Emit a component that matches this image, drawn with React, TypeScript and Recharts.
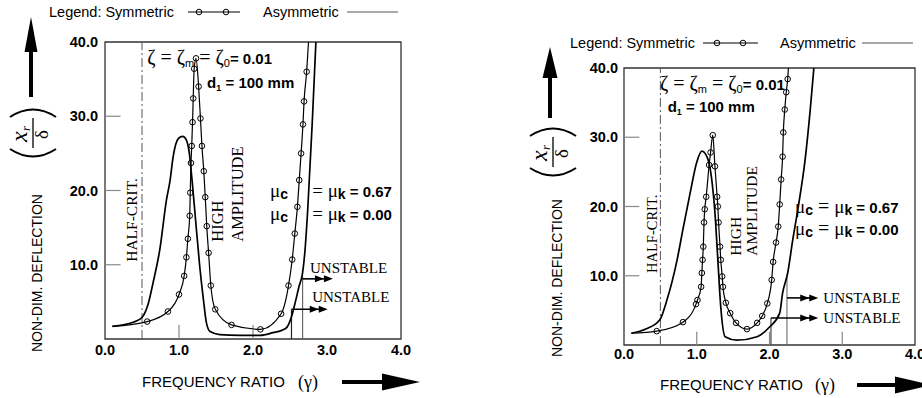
import React from 'react';
import { LineChart, Line, XAxis, YAxis, ReferenceLine, ReferenceArea, ReferenceDot } from 'recharts';

// ---------- axis ticks ----------
const X_TICKS = [0, 1, 2, 3, 4];
const Y_TICKS = [10, 20, 30, 40];
const LEFT_X_MARKS = [1, 2];
const RIGHT_X_MARKS = [1, 2, 3];

// ---------- left panel ----------
const LEFT_SYM_X = [0.10, 0.57, 0.85, 1.00, 1.07, 1.10, 1.12, 1.145, 1.152, 1.162, 1.172, 1.183, 1.192, 1.205, 1.23,
  1.265, 1.29, 1.31, 1.335, 1.355, 1.375, 1.40, 1.43, 1.49, 1.71, 2.10, 2.38, 2.48, 2.53, 2.565, 2.60, 2.625, 2.65, 2.675, 2.69, 2.725, 2.75];
const LEFT_SYM_Y = [1.7, 2.35, 3.7, 6.0, 8.5, 11.0, 13.5, 16.6, 19.7, 23.7, 26.0, 29.2, 32.4, 36.4, 37.8,
  34.0, 29.7, 26.0, 22.6, 19.1, 15.2, 11.6, 7.2, 4.0, 1.9, 1.3, 3.4, 7.2, 10.7, 14.2, 17.8, 21.4, 25.0, 28.9, 32.0, 36.0, 40.0];
const LEFT_ASYM_X = [0.10, 0.38, 0.50, 0.58, 0.65, 0.74, 0.83, 0.88, 0.92, 0.99, 1.05, 1.10, 1.14, 1.18, 1.22, 1.28, 1.33, 1.37, 1.42,
  1.55, 1.82, 2.10, 2.27, 2.40, 2.46, 2.52, 2.57, 2.62, 2.67, 2.70, 2.74, 2.80, 2.85];
const LEFT_ASYM_Y = [1.7, 2.25, 2.9, 4.6, 7.6, 12.0, 18.7, 21.4, 24.5, 27.0, 27.3, 26.8, 25.0, 21.0, 16.5, 9.8, 5.3, 2.2, 1.0,
  0.6, 0.5, 0.5, 0.85, 1.2, 1.6, 3.0, 4.9, 7.0, 8.9, 11.6, 17.5, 29.0, 40.0];

// ---------- right panel ----------
const RIGHT_SYM_X = [0.10, 0.45, 0.81, 0.99, 1.01, 1.06, 1.07, 1.08, 1.09, 1.10, 1.11, 1.13, 1.17, 1.19, 1.22,
  1.25, 1.28, 1.29, 1.30, 1.32, 1.33, 1.35, 1.36, 1.40, 1.46, 1.54, 1.69, 1.83, 1.90, 1.97, 2.03, 2.05, 2.09, 2.12, 2.14, 2.16, 2.18, 2.19, 2.21, 2.23, 2.25, 2.26];
const RIGHT_SYM_Y = [1.7, 2.0, 3.3, 5.9, 6.5, 8.4, 10.4, 12.3, 14.2, 17.7, 19.6, 21.4, 26.0, 27.8, 30.3,
  25.8, 21.4, 20.0, 17.7, 14.2, 12.3, 9.9, 8.4, 6.1, 4.6, 3.2, 2.3, 3.2, 4.2, 6.0, 9.4, 12.0, 14.8, 17.1, 20.3, 23.9, 27.2, 30.7, 34.0, 36.5, 38.4, 40.0];
const RIGHT_ASYM_X = [0.10, 0.30, 0.49, 0.59, 0.73, 0.81, 0.91, 1.00, 1.07, 1.14, 1.20, 1.25, 1.29, 1.33, 1.39, 1.55, 1.83, 2.00,
  2.14, 2.18, 2.25, 2.32, 2.39, 2.49, 2.56, 2.61];
const RIGHT_ASYM_Y = [1.7, 2.3, 3.6, 6.5, 12.3, 16.7, 22.0, 26.4, 28.0, 27.2, 24.4, 19.1, 12.3, 5.5, 1.2, 0.7, 1.2, 2.6,
  4.6, 7.5, 10.4, 15.2, 19.6, 26.8, 34.0, 40.0];

const SANS = '"Liberation Sans", Arial, sans-serif';
const SERIF = '"Liberation Serif", "Times New Roman", serif';

type P = { x: number; y: number };
const zip = (xs: number[], ys: number[]): P[] => xs.map((x, i) => ({ x, y: ys[i] }));
const fmt = (v: number) => v.toFixed(1);

function circleDot(n: number) {
  return (p: any) => {
    const key = `d-${p.index}`;
    if (p.index === 0 || p.index === n - 1 || p.cx == null || p.cy == null) return <g key={key} />;
    return <circle key={key} cx={p.cx} cy={p.cy} r={2.8} fill="none" stroke="#000" strokeWidth={1} />;
  };
}

function at(key: string, x: number, y: number, render: (cx: number, cy: number) => React.ReactNode) {
  return (
    <ReferenceDot key={key} x={x} y={y} r={0} ifOverflow="visible"
      shape={(p: any) => <g>{render(p.cx, p.cy)}</g>} />
  );
}

function seg(key: string, x1: number, y1: number, x2: number, y2: number, stroke: string, w: number) {
  return (
    <ReferenceLine key={key} segment={[{ x: x1, y: y1 }, { x: x2, y: y2 }]} stroke={stroke} strokeWidth={w} ifOverflow="visible" />
  );
}

function arrowHeads(cx: number, cy: number) {
  return (
    <g fill="#000">
      <polygon points={`${cx - 18},${cy - 3.5} ${cx - 9},${cy} ${cx - 18},${cy + 3.5}`} />
      <polygon points={`${cx - 9},${cy - 3.5} ${cx},${cy} ${cx - 9},${cy + 3.5}`} />
    </g>
  );
}

function zetaText(cx: number, cy: number) {
  return (
    <text x={cx} y={cy} fill="#000">
      <tspan fontFamily={SERIF} fontSize={20}>ζ = ζ</tspan>
      <tspan fontFamily={SANS} fontSize={11} dy={3}>m</tspan>
      <tspan fontFamily={SERIF} fontSize={20} dy={-3}> = ζ</tspan>
      <tspan fontFamily={SANS} fontSize={11} dy={3}>0</tspan>
      <tspan fontFamily={SANS} fontSize={15} fontWeight="bold" dy={-3}>= 0.01</tspan>
    </text>
  );
}

function dText(cx: number, cy: number) {
  return (
    <text x={cx} y={cy} fill="#000" fontFamily={SANS} fontWeight="bold" fontSize={15}>
      <tspan>d</tspan>
      <tspan fontSize={9} dy={3}>1</tspan>
      <tspan dy={-3}> = 100 mm</tspan>
    </text>
  );
}

function muC(cx: number, cy: number) {
  return (
    <text x={cx} y={cy} fill="#000">
      <tspan fontFamily={SERIF} fontSize={19}>μ</tspan>
      <tspan fontFamily={SANS} fontSize={14} fontWeight="bold" dy={2}>c</tspan>
    </text>
  );
}

function muRest(cx: number, cy: number, val: string) {
  return (
    <text x={cx} y={cy} fill="#000">
      <tspan fontFamily={SERIF} fontSize={19}>= μ</tspan>
      <tspan fontFamily={SANS} fontSize={14} fontWeight="bold" dy={2}>k</tspan>
      <tspan fontFamily={SANS} fontSize={15} fontWeight="bold" dy={-2}> = {val}</tspan>
    </text>
  );
}

function muFull(cx: number, cy: number, val: string) {
  return (
    <text x={cx} y={cy} fill="#000">
      <tspan fontFamily={SERIF} fontSize={19}>μ</tspan>
      <tspan fontFamily={SANS} fontSize={14} fontWeight="bold" dy={2}>c</tspan>
      <tspan fontFamily={SERIF} fontSize={20} dy={-2} dx={5}>=</tspan>
      <tspan fontFamily={SERIF} fontSize={19} dx={5}>μ</tspan>
      <tspan fontFamily={SANS} fontSize={14} fontWeight="bold" dy={2}>k</tspan>
      <tspan fontFamily={SANS} fontSize={15} fontWeight="bold" dy={-2}> = {val}</tspan>
    </text>
  );
}

function vText(cx: number, cy: number, s: string, size: number) {
  return (
    <text x={cx} y={cy} transform={`rotate(-90 ${cx} ${cy})`} fontFamily={SERIF} fontSize={size} fill="#000">{s}</text>
  );
}

function plainText(cx: number, cy: number, s: string, size: number) {
  return <text x={cx} y={cy} fontFamily={SERIF} fontSize={size} fill="#000">{s}</text>;
}

interface PanelProps {
  left: number; width: number; top: number;
  margin: { top: number; right: number; bottom: number; left: number };
  xTickMargin: number; yTickMargin: number;
  sym: P[]; asym: P[]; xMarks: number[];
  extras: React.ReactNode[];
}

const TICK_STYLE = { fontSize: 14.5, fill: '#000', fontFamily: SANS, fontWeight: 'bold' };

function Panel(props: PanelProps) {
  const { sym, asym } = props;
  return (
    <div style={{ position: 'absolute', left: props.left, top: props.top }}>
      <LineChart width={props.width} height={398} margin={props.margin}>
        <XAxis dataKey="x" type="number" domain={[0, 4]} ticks={X_TICKS} interval={0} tickFormatter={fmt}
          tickLine={false} axisLine={false} tickSize={0} tickMargin={props.xTickMargin} allowDataOverflow height={30}
          tick={TICK_STYLE} />
        <YAxis type="number" domain={[0, 40]} ticks={Y_TICKS} interval={0} tickFormatter={fmt}
          tickLine={false} axisLine={false} tickSize={0} tickMargin={props.yTickMargin} allowDataOverflow width={50}
          tick={TICK_STYLE} />
        <ReferenceArea x1={0} x2={4} y1={0} y2={40} fill="none" stroke="#333" strokeWidth={1.3} ifOverflow="visible" />
        {Y_TICKS.filter((v) => v < 40).map((v) => seg(`yt${v}`, 0, v, 0.21, v, '#888', 1.2))}
        {props.xMarks.map((v) => seg(`xt${v}`, v, 0, v, 1.9, '#888', 1.2))}
        <ReferenceLine x={0.5} stroke="#555" strokeDasharray="9 3 2 3" strokeWidth={1} />
        {props.extras}
        <Line data={asym} dataKey="y" type="monotone" stroke="#000" strokeWidth={1.7} dot={false} isAnimationActive={false} />
        <Line data={sym} dataKey="y" type="monotone" stroke="#000" strokeWidth={1.2} dot={circleDot(sym.length)} isAnimationActive={false} />
      </LineChart>
    </div>
  );
}

function Fraction({ x, y }: { x: number; y: number }) {
  return (
    <g transform={`translate(${x},${y}) rotate(-90)`} fill="#000">
      <path d="M -16 -23 Q -31 0 -16 23" fill="none" stroke="#000" strokeWidth={2} />
      <path d="M 16 -23 Q 31 0 16 23" fill="none" stroke="#000" strokeWidth={2} />
      <line x1={-15} x2={15} y1={0} y2={0} stroke="#000" strokeWidth={1.3} />
      <text x={-9} y={-6} fontFamily={SERIF} fontStyle="italic" fontSize={24}>x</text>
      <text x={2} y={-3} fontFamily={SERIF} fontStyle="italic" fontSize={13}>r</text>
      <text x={-6} y={15} fontFamily={SERIF} fontSize={19}>δ</text>
    </g>
  );
}

function Legend({ x, y, symL, symR, c1, c2, ax, aL, aR }: any) {
  return (
    <g fontFamily={SANS} fontSize={14.5} fill="#000">
      <text x={x} y={y + 5}>Legend: Symmetric</text>
      <line x1={symL} x2={symR} y1={y} y2={y} stroke="#000" strokeWidth={1.2} />
      <circle cx={c1} cy={y} r={2.8} fill="none" stroke="#000" strokeWidth={1} />
      <circle cx={c2} cy={y} r={2.8} fill="none" stroke="#000" strokeWidth={1} />
      <text x={ax} y={y + 5}>Asymmetric</text>
      <line x1={aL} x2={aR} y1={y} y2={y} stroke="#555" strokeWidth={1.2} />
    </g>
  );
}

export default function App() {
  const leftSym = zip(LEFT_SYM_X, LEFT_SYM_Y);
  const leftAsym = zip(LEFT_ASYM_X, LEFT_ASYM_Y);
  const rightSym = zip(RIGHT_SYM_X, RIGHT_SYM_Y);
  const rightAsym = zip(RIGHT_ASYM_X, RIGHT_ASYM_Y);

  const leftExtras = [
    seg('lv1', 2.52, 0, 2.52, 4.0, '#222', 1.2),
    seg('lv2', 2.67, 0, 2.67, 8.4, '#666', 1.2),
    seg('la1', 2.67, 8.1, 3.02, 8.1, '#000', 1.6),
    seg('la2', 2.52, 4.0, 2.95, 4.0, '#000', 1.6),
    at('lah1', 3.08, 8.1, arrowHeads),
    at('lah2', 3.01, 4.0, arrowHeads),
    at('lz', 0.57, 37.0, zetaText),
    at('ld', 1.38, 33.8, dText),
    at('lhc', 0.43, 10.4, (cx, cy) => vText(cx, cy, 'HALF-CRIT.', 15.5)),
    at('lhi', 1.595, 13.1, (cx, cy) => vText(cx, cy, 'HIGH', 16.5)),
    at('lam', 1.865, 13.1, (cx, cy) => vText(cx, cy, 'AMPLITUDE', 16.5)),
    at('lm1', 2.23, 19.1, muC),
    at('lm2', 2.8, 19.1, (cx, cy) => muRest(cx, cy, '0.67')),
    at('lm3', 2.23, 16.0, muC),
    at('lm4', 2.8, 16.0, (cx, cy) => muRest(cx, cy, '0.00')),
    at('lu1', 2.77, 8.9, (cx, cy) => plainText(cx, cy, 'UNSTABLE', 15)),
    at('lu2', 2.8, 5.0, (cx, cy) => plainText(cx, cy, 'UNSTABLE', 15)),
  ];

  const rightExtras = [
    seg('rv1', 2.02, 0, 2.02, 3.9, '#444', 1.2),
    seg('rv2', 2.24, 0, 2.24, 9.8, '#777', 1.2),
    seg('ra1', 2.24, 6.8, 2.6, 6.8, '#000', 1.6),
    seg('ra2', 2.02, 3.9, 2.6, 3.9, '#000', 1.6),
    at('rah1', 2.67, 6.8, arrowHeads),
    at('rah2', 2.67, 3.9, arrowHeads),
    at('rz', 0.495, 36.8, zetaText),
    at('rd', 0.6, 33.6, dText),
    at('rhc', 0.45, 10.4, (cx, cy) => vText(cx, cy, 'HALF-CRIT.', 14.5)),
    at('rhi', 1.61, 12.9, (cx, cy) => vText(cx, cy, 'HIGH', 15.5)),
    at('ram', 1.83, 12.9, (cx, cy) => vText(cx, cy, 'AMPLITUDE', 15.5)),
    at('rm1', 2.35, 19.0, (cx, cy) => muFull(cx, cy, '0.67')),
    at('rm2', 2.35, 15.9, (cx, cy) => muFull(cx, cy, '0.00')),
    at('ru1', 2.74, 6.1, (cx, cy) => plainText(cx, cy, 'UNSTABLE', 15)),
    at('ru2', 2.74, 3.2, (cx, cy) => plainText(cx, cy, 'UNSTABLE', 15)),
  ];

  return (
    <div style={{ position: 'fixed', left: 0, top: 0, width: 922, height: 398, overflow: 'hidden', background: '#fff' }}>
      <Panel left={0} top={0} width={460} margin={{ top: 42, right: 59, bottom: 29, left: 55 }}
        xTickMargin={6} yTickMargin={7} sym={leftSym} asym={leftAsym} xMarks={LEFT_X_MARKS} extras={leftExtras} />
      <Panel left={460} top={0} width={462} margin={{ top: 68, right: 7, bottom: 23, left: 114 }}
        xTickMargin={4} yTickMargin={6} sym={rightSym} asym={rightAsym} xMarks={RIGHT_X_MARKS} extras={rightExtras} />
      <svg width={922} height={398} style={{ position: 'absolute', left: 0, top: 0, pointerEvents: 'none' }}>
        {/* left panel decorations */}
        <Legend x={49} y={12} symL={188} symR={240} c1={199} c2={226} ax={263} aL={347} aR={398} />
        <rect x={29} y={50} width={4} height={47} fill="#000" />
        <polygon points="24.5,52 37.5,52 31,17" fill="#000" />
        <Fraction x={33} y={133} />
        <text x={42} y={352} transform="rotate(-90 42 352)" fontFamily={SANS} fontSize={14} fill="#000">NON-DIM. DEFLECTION</text>
        <text x={142} y={387} fontFamily={SANS} fontSize={15} fill="#000">FREQUENCY RATIO</text>
        <text x={298} y={388} fontFamily={SERIF} fontSize={18} fill="#000">(γ)</text>
        <rect x={342} y={380} width={42} height={4} fill="#000" />
        <polygon points="382,373.5 382,390.5 420,382" fill="#000" />
        {/* right panel decorations */}
        <Legend x={570} y={43} symL={703} symR={758} c1={717} c2={743} ax={780} aL={862} aR={913} />
        <rect x={548} y={76} width={4} height={42} fill="#000" />
        <polygon points="542.5,78 557.5,78 550,47" fill="#000" />
        <Fraction x={553} y={152} />
        <text x={562} y={357} transform="rotate(-90 562 357)" fontFamily={SANS} fontSize={14} fill="#000">NON-DIM. DEFLECTION</text>
        <text x={660} y={390} fontFamily={SANS} fontSize={15} fill="#000">FREQUENCY RATIO</text>
        <text x={815} y={391} fontFamily={SERIF} fontSize={18} fill="#000">(γ)</text>
        <rect x={857} y={383} width={40} height={4} fill="#000" />
        <polygon points="895,376.5 895,393.5 932,385" fill="#000" />
      </svg>
    </div>
  );
}
